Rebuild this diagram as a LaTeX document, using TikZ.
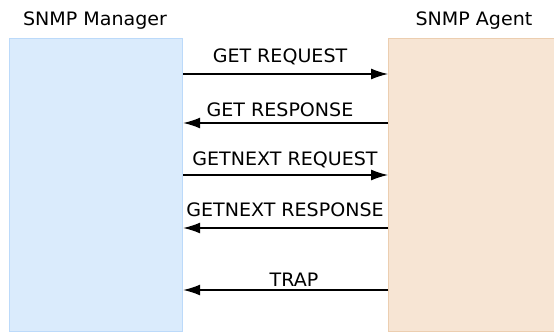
\documentclass[tikz,border=0pt]{standalone}
\usepackage{fontspec}
\setmainfont{DejaVu Sans}[FakeStretch=1.03]
\usepackage{xcolor}
\usetikzlibrary{arrows.meta,positioning}

\definecolor{mgrfill}{RGB}{218,235,252}
\definecolor{mgrline}{RGB}{188,218,250}
\definecolor{agtfill}{RGB}{247,229,212}
\definecolor{agtline}{RGB}{236,206,176}

\begin{document}
\begin{tikzpicture}[x=1pt,y=-1pt,
    entity/.style={line width=1.2pt, inner sep=0pt, anchor=north west, minimum height=293pt},
    msg/.style={-{Latex[length=17pt,width=11pt]}, line width=1.3pt},
    lbl/.style={anchor=base, inner sep=0pt, font=\fontsize{18.5}{22}\selectfont}]
    \useasboundingbox (0,0) rectangle (554,333);

    % The two parties
    \node[entity, draw=mgrline, fill=mgrfill, minimum width=173pt] (mgr) at (9,38) {};
    \node[entity, draw=agtline, fill=agtfill, minimum width=172pt] (agt) at (388,38) {};

    % Titles above the boxes
    \node[lbl] (mgrtitle) at (95,25.3) {SNMP Manager};
    \node[lbl] (agttitle) at (474,25.3) {SNMP Agent};

    % Requests go to the agent, responses come back
    \foreach \y/\src/\dst in {74/mgr/agt, 175/mgr/agt}
        \draw[msg] (\src.east |- 0,\y) -- (\dst.west |- 0,\y);
    \foreach \y/\src/\dst in {123/agt/mgr, 228/agt/mgr, 290/agt/mgr}
        \draw[msg] (\src.west |- 0,\y) -- (\dst.east |- 0,\y);

    % Message labels
    \node[lbl] (getreq) at (280,62.5) {GET REQUEST};
    \node[lbl] (getresp) at (280,116) {GET RESPONSE};
    \node[lbl] (nextreq) at (285,165) {GETNEXT REQUEST};
    \node[lbl] (nextresp) at (285,216) {GETNEXT RESPONSE};
    \node[lbl] (trap) at (294,286) {TRAP};
\end{tikzpicture}
\end{document}
